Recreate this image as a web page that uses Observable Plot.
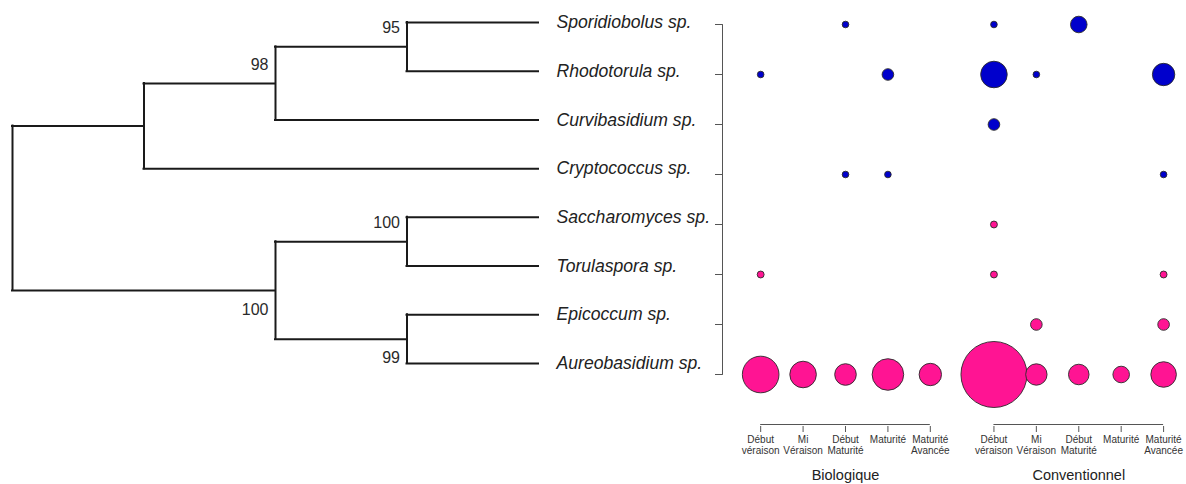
<!DOCTYPE html>
<html>
<head>
<meta charset="utf-8">
<script src="https://cdn.jsdelivr.net/npm/d3@7"></script>
<script src="https://cdn.jsdelivr.net/npm/@observablehq/plot@0.6"></script>
<style>
  body { margin: 0; background: #fff; }
  #wrap { width: 1186px; height: 484px; overflow: hidden; }
  #wrap svg { overflow: visible; max-width: none; }
</style>
</head>
<body>
<div id="wrap"></div>
<script>
// ---------- data ----------
const species = [
  "Sporidiobolus sp.", "Rhodotorula sp.", "Curvibasidium sp.", "Cryptococcus sp.",
  "Saccharomyces sp.", "Torulaspora sp.", "Epicoccum sp.", "Aureobasidium sp."
];
const clades = [
  "Basidiomycota", "Basidiomycota", "Basidiomycota", "Basidiomycota",
  "Ascomycota", "Ascomycota", "Ascomycota", "Ascomycota"
];
const groups = ["Biologique", "Conventionnel"];
const stages = ["Début\nvéraison", "Mi\nVéraison", "Début\nMaturité", "Maturité", "Maturité\nAvancée"];

// relative abundance (bubble area), one row per species, one column per stage
const biologique = [
  [0, 0, 1.0, 0, 0],
  [1.0, 0, 0, 3.1, 0],
  [0, 0, 0, 0, 0],
  [0, 0, 1.0, 1.0, 0],
  [0, 0, 0, 0, 0],
  [1.1, 0, 0, 0, 0],
  [0, 0, 0, 0, 0],
  [30.8, 16.2, 10.7, 22.9, 11.5]
];
const conventionnel = [
  [1.0, 0, 6.3, 0, 0],
  [16.2, 1.0, 0, 0, 11.5],
  [3.1, 0, 0, 0, 0],
  [0, 0, 0, 0, 1.0],
  [1.1, 0, 0, 0, 0],
  [1.1, 0, 0, 0, 1.1],
  [0, 3.1, 0, 0, 3.1],
  [100, 10.5, 9.7, 6.3, 15.0]
];

// phylogenetic tree (node depth = distance from root)
const nodeIds      = ["root", "N1", "N98", "N95", "N100a", "N100b", "N99", ...species];
const nodeParents  = [null, "root", "N1", "N98", "root", "N100a", "N100a",
                      "N95", "N95", "N98", "N1", "N100b", "N100b", "N99", "N99"];
const nodeDepths   = [0, 1, 2, 3, 2, 3, 3, 4, 4, 4, 4, 4, 4, 4, 4];
const nodeSupport  = [null, null, 98, 95, 100, 100, 99, null, null, null, null, null, null, null, null];
const supportSide  = [null, null, "above", "above", "below", "above", "below", null, null, null, null, null, null, null, null];

// ---------- tree layout ----------
const yOf = new Map(species.map((s, i) => [s, i]));
const childrenOf = id => nodeIds.filter((_, k) => nodeParents[k] === id);
function nodeY(id) {
  if (yOf.has(id)) return yOf.get(id);
  const v = d3.mean(childrenOf(id), nodeY);
  yOf.set(id, v);
  return v;
}
const nodes = nodeIds.map((id, k) => ({
  id, parent: nodeParents[k], depth: nodeDepths[k], support: nodeSupport[k],
  side: supportSide[k], y: nodeY(id)
}));
const depthOf = new Map(nodes.map(n => [n.id, n.depth]));
const horizontals = nodes.filter(n => n.parent).map(n => ({x1: depthOf.get(n.parent), x2: n.depth, y: n.y}));
const verticals = nodes.filter(n => childrenOf(n.id).length).map(n => {
  const [y1, y2] = d3.extent(childrenOf(n.id), c => yOf.get(c));
  return {x: n.depth, y1, y2};
});
const supports = nodes.filter(n => n.support != null);
const leafDepth = d3.max(nodeDepths);

const baseFont = "'Liberation Sans', Arial, sans-serif";
const supportStyle = {
  x: "depth", y: "y", text: d => String(d.support),
  textAnchor: "end", dx: -7, fontSize: 16, fill: "#2a2a2a",
  fontFamily: "'Liberation Sans Narrow', 'Arial Narrow', 'Liberation Sans', sans-serif"
};

const tree = Plot.plot({
  width: 700, height: 484, margin: 0,
  style: {fontFamily: baseFont, background: "transparent"},
  x: {domain: [0, leafDepth], range: [12, 538], axis: null},
  y: {domain: [0, species.length - 1], range: [22, 363], axis: null},
  marks: [
    Plot.ruleY(horizontals, {x1: "x1", x2: "x2", y: "y", stroke: "#1a1a1a", strokeWidth: 2, strokeLinecap: "square"}),
    Plot.ruleX(verticals, {x: "x", y1: "y1", y2: "y2", stroke: "#1a1a1a", strokeWidth: 2, strokeLinecap: "square"}),
    Plot.text(supports.filter(d => d.side === "above"), {...supportStyle, dy: -19}),
    Plot.text(supports.filter(d => d.side === "below"), {...supportStyle, dy: 19}),
    Plot.text(species, {
      x: () => leafDepth, y: (d, i) => i, text: d => d,
      textAnchor: "start", dx: 18, fontSize: 17.6, fontStyle: "italic", fill: "#222"
    })
  ]
});

// ---------- bubble chart ----------
const groupGap = 0.5;
const posOf = (g, j) => g * (stages.length + groupGap) + j;
const tables = [biologique, conventionnel];
const obs = [];
species.forEach((s, i) => {
  groups.forEach((grp, g) => {
    stages.forEach((st, j) => {
      const v = tables[g][i][j];
      if (v > 0) obs.push({species: s, clade: clades[i], group: grp, stage: st, value: v, pos: posOf(g, j)});
    });
  });
});
const tickPos = [];
const tickLabel = new Map();
groups.forEach((grp, g) => stages.forEach((st, j) => { tickPos.push(posOf(g, j)); tickLabel.set(posOf(g, j), st); }));
const axisRow = "";
const xDomain = [-0.9, 10.04];

const chart = Plot.plot({
  width: 1186, height: 484,
  marginLeft: 722, marginRight: 0, marginTop: 22, marginBottom: 58,
  style: {fontFamily: baseFont, background: "#fff"},
  x: {type: "linear", domain: xDomain, label: null},
  y: {type: "point", domain: [...species, axisRow], padding: 0, label: null},
  r: {type: "sqrt", domain: [0, 100], range: [0, 33]},
  color: {domain: ["Basidiomycota", "Ascomycota"], range: ["#0000CC", "#FF1493"]},
  marks: [
    Plot.line([species[0], species[species.length - 1]], {x: () => xDomain[0], y: d => d, stroke: "#555", strokeWidth: 1}),
    Plot.axisY({ticks: species, tickSize: 7, tickFormat: () => "", stroke: "#555", label: null}),
    Plot.ruleY(groups, {y: () => axisRow, x1: (d, g) => posOf(g, 0), x2: (d, g) => posOf(g, stages.length - 1), stroke: "#555", strokeWidth: 1}),
    Plot.axisX({ticks: tickPos, tickSize: 6, tickPadding: 3, tickFormat: d => tickLabel.get(d), stroke: "#555", fill: "#333", fontSize: 10, lineHeight: 1.1, label: null}),
    Plot.text(groups, {x: (d, g) => posOf(g, 2), y: () => axisRow, dy: 51, text: d => d, fontSize: 14.5, fill: "#222"}),
    Plot.dot(obs, {x: "pos", y: "species", r: "value", fill: "clade", stroke: "#2a2a2a", strokeWidth: 0.9})
  ]
});

// merge the tree layers (same pixel frame: both start at x = 0) into the single chart SVG
const firstLayer = chart.querySelector(":scope > g");
for (const g of [...tree.querySelectorAll(":scope > g")]) chart.insertBefore(g, firstLayer);

document.getElementById("wrap").appendChild(chart);
</script>
</body>
</html>
